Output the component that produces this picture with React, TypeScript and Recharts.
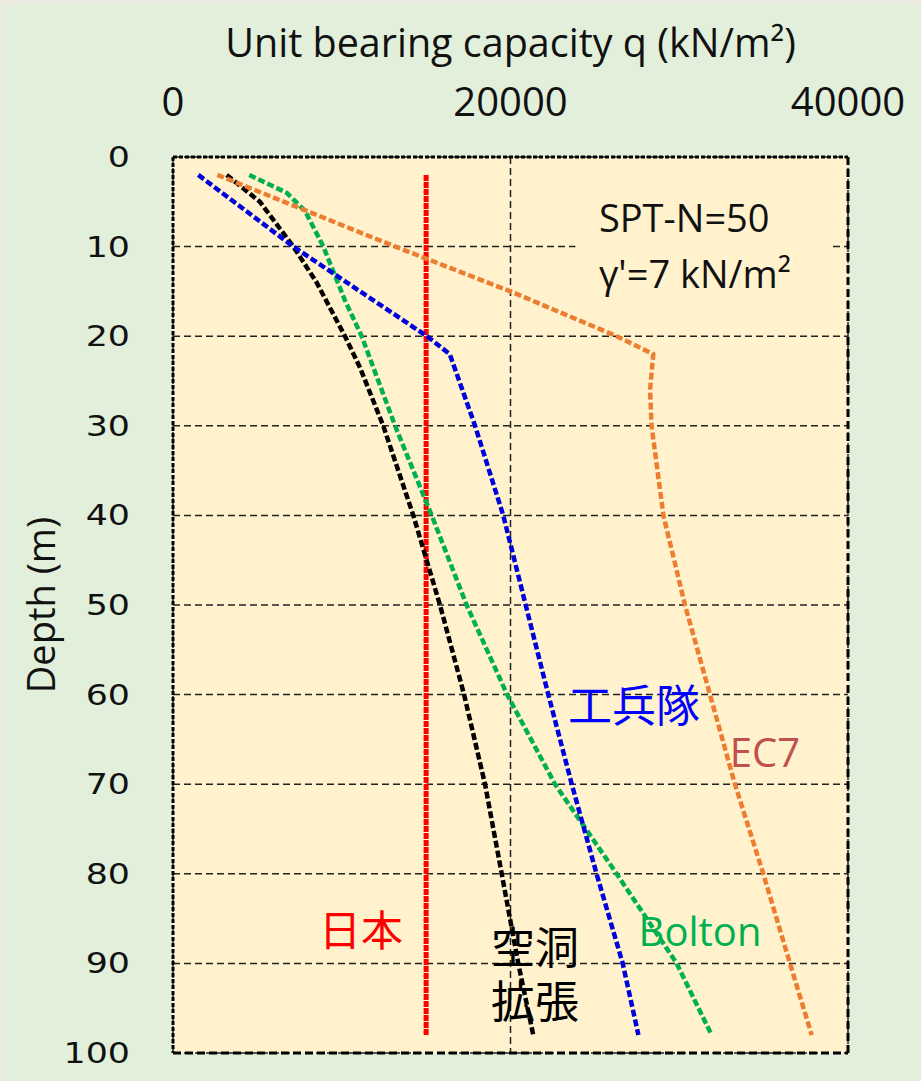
import React from 'react';
import {
  LineChart,
  Line,
  XAxis,
  YAxis,
  CartesianGrid,
  ReferenceArea,
  ReferenceDot,
  Label,
} from 'recharts';

// ---- axis ticks ----
const xTicks = [0, 20000, 40000];
const yTicks = [0, 10, 20, 30, 40, 50, 60, 70, 80, 90, 100];

// ---- series (depth in m, q in kN/m2) ----
const japanDepth = [2, 98];
const japanQ = [15000, 15000];

const usaceDepth = [2, 10, 20, 22, 30, 40, 50, 60, 70, 80, 90, 98];
const usaceQ = [1500, 7130, 15050, 16400, 17900, 19570, 20900, 22240, 23630, 25100, 26650, 27580];

const ec7Depth = [2, 10, 15, 20, 22, 26, 30, 40, 50, 60, 70, 80, 90, 98];
const ec7Q = [2630, 13170, 20000, 26290, 28460, 28270, 28360, 29060, 30340, 31820, 33300, 34980, 36560, 37850];

const boltonDepth = [2, 4, 6, 10, 16, 20, 30, 40, 50, 60, 70, 80, 90, 98];
const boltonQ = [4520, 6740, 7820, 8910, 10190, 11180, 13160, 15330, 17400, 19800, 22640, 26290, 29850, 31920];

const cavityDepth = [2, 5, 10, 14, 20, 23.5, 30, 40, 50, 60, 70, 80, 90, 98];
const cavityQ = [3180, 5150, 7130, 8510, 10190, 11080, 12460, 14240, 15820, 17250, 18490, 19480, 20460, 21350];

// ---- annotation texts ----
const cavityLines = ['空洞', '拡張'];
const sptLines = ['SPT-N=50', "γ'=7 kN/m²"];

const zip = (d: number[], q: number[]) => d.map((depth, i) => ({ depth, q: q[i] }));

const LATIN = '"Open Sans", "Noto Sans", sans-serif';
const CJK = '"Noto Sans CJK JP", "Noto Sans CJK SC", sans-serif';

const YTick = (props: any) => {
  const { x, y, payload } = props;
  return (
    <g transform={`translate(${x},${y}) scale(1.2,1)`}>
      <text
        x={0}
        y={0}
        textAnchor="end"
        dominantBaseline="central"
        fontFamily='"DejaVu Sans", sans-serif'
        fontSize={29}
        fill="#111"
      >
        {payload.value}
      </text>
    </g>
  );
};

const TitleLabel = (props: any) => {
  const vb = props.viewBox || { x: 173, y: 0, width: 675, height: 157 };
  return (
    <text
      x={vb.x + vb.width / 2}
      y={57}
      textAnchor="middle"
      fontFamily={LATIN}
      fontSize={39.5}
      fill="#111"
    >
      Unit bearing capacity q (kN/m²)
    </text>
  );
};

const DepthLabel = (props: any) => {
  const vb = props.viewBox || { x: 0, y: 157, width: 173, height: 896 };
  const cx = 40;
  const cy = vb.y + vb.height / 2;
  return (
    <text
      x={cx}
      y={cy}
      transform={`rotate(-90, ${cx}, ${cy})`}
      textAnchor="middle"
      dominantBaseline="central"
      fontFamily={LATIN}
      fontSize={38}
      fill="#111"
    >
      Depth (m)
    </text>
  );
};

const multiLine = (lines: string[], opts: { fontSize: number; fontFamily: string; fill: string; anchor: 'start' | 'middle'; gap: number }) =>
  (props: any) => {
    const vb = props.viewBox || { x: 0, y: 0, width: 0, height: 0 };
    const x = vb.x + (vb.width || 0) / 2;
    const y = vb.y + (vb.height || 0) / 2;
    return (
      <text
        x={x}
        y={y}
        textAnchor={opts.anchor}
        fontFamily={opts.fontFamily}
        fontSize={opts.fontSize}
        fill={opts.fill}
      >
        {lines.map((s, i) => (
          <tspan key={i} x={x} dy={i === 0 ? 0 : opts.gap}>
            {s}
          </tspan>
        ))}
      </text>
    );
  };

const common = {
  strokeWidth: 4.5,
  strokeDasharray: '7 3',
  dot: false,
  isAnimationActive: false,
};

export default function App() {
  return (
    <div style={{ position: 'absolute', left: 0, top: 0, width: 921, height: 1081, background: '#ecebe2' }}>
      <div style={{ position: 'absolute', left: 3, top: 5, width: 918, height: 1076, background: '#e2efda' }} />
      <div style={{ position: 'absolute', left: 0, top: 0 }}>
        <LineChart width={921} height={1081} margin={{ top: 0, right: 0, bottom: 0, left: 0 }}>
          <CartesianGrid
            stroke="#222"
            strokeWidth={1.5}
            strokeDasharray="7 4"
            fill="#fff2cc"
            fillOpacity={1}
          />
          <XAxis
            xAxisId={0}
            dataKey="q"
            type="number"
            orientation="top"
            domain={[0, 40000]}
            ticks={xTicks}
            interval={0}
            height={157}
            tickLine={false}
            tickSize={0}
            tickMargin={41}
            axisLine={{ stroke: '#000', strokeWidth: 3, strokeDasharray: '4 2' }}
            tick={{ fontSize: 40, fontFamily: LATIN, fill: '#111' }}
            allowDataOverflow
          >
            <Label content={TitleLabel} />
          </XAxis>
          <XAxis
            xAxisId="bottom"
            type="number"
            orientation="bottom"
            domain={[0, 40000]}
            height={28}
            tick={false}
            tickLine={false}
            axisLine={{ stroke: '#000', strokeWidth: 3, strokeDasharray: '8 4' }}
          />
          <YAxis
            yAxisId={0}
            dataKey="depth"
            type="number"
            reversed
            domain={[0, 100]}
            ticks={yTicks}
            interval={0}
            width={173}
            tickLine={false}
            tickSize={0}
            tickMargin={43}
            axisLine={{ stroke: '#000', strokeWidth: 3, strokeDasharray: '4 2' }}
            tick={<YTick />}
            allowDataOverflow
          >
            <Label content={DepthLabel} />
          </YAxis>
          <YAxis
            yAxisId="right"
            type="number"
            orientation="right"
            domain={[0, 100]}
            width={73}
            tick={false}
            tickLine={false}
            axisLine={{ stroke: '#000', strokeWidth: 3, strokeDasharray: '8 4' }}
          />

          <ReferenceArea
            x1={23850}
            x2={39050}
            y1={3.5}
            y2={16}
            fill="#fff2cc"
            fillOpacity={1}
            stroke="none"
            ifOverflow="visible"
          />

          <Line data={zip(japanDepth, japanQ)} dataKey="depth" stroke="#ff0000" strokeWidth={5} strokeDasharray="6 1" dot={false} isAnimationActive={false} />
          <Line data={zip(cavityDepth, cavityQ)} dataKey="depth" stroke="#000000" {...common} />
          <Line data={zip(boltonDepth, boltonQ)} dataKey="depth" stroke="#00b050" {...common} />
          <Line data={zip(usaceDepth, usaceQ)} dataKey="depth" stroke="#0000dd" {...common} />
          <Line data={zip(ec7Depth, ec7Q)} dataKey="depth" stroke="#ed7d31" {...common} />

          <ReferenceDot x={25240} y={8.35} r={0} fill="none" stroke="none" ifOverflow="visible"
            label={{ content: multiLine(sptLines, { fontSize: 38, fontFamily: LATIN, fill: '#111', anchor: 'start', gap: 56 }) }} />

          <ReferenceDot x={11140} y={86.35} r={0} fill="none" stroke="none" ifOverflow="visible"
            label={{ value: '日本', position: 'center', fontSize: 42, fontFamily: CJK, fill: '#ff0000' }} />
          <ReferenceDot x={27320} y={61.3} r={0} fill="none" stroke="none" ifOverflow="visible"
            label={{ value: '工兵隊', position: 'center', fontSize: 44, fontFamily: CJK, fill: '#0000ff' }} />
          <ReferenceDot x={35080} y={66.5} r={0} fill="none" stroke="none" ifOverflow="visible"
            label={{ value: 'EC7', position: 'center', fontSize: 40, fontFamily: LATIN, fill: '#c0504d' }} />
          <ReferenceDot x={31230} y={86.5} r={0} fill="none" stroke="none" ifOverflow="visible"
            label={{ value: 'Bolton', position: 'center', fontSize: 40, fontFamily: LATIN, fill: '#00b050' }} />
          <ReferenceDot x={21450} y={90.1} r={0} fill="none" stroke="none" ifOverflow="visible"
            label={{ content: multiLine(cavityLines, { fontSize: 44, fontFamily: CJK, fill: '#000', anchor: 'middle', gap: 54 }) }} />
        </LineChart>
      </div>
    </div>
  );
}
